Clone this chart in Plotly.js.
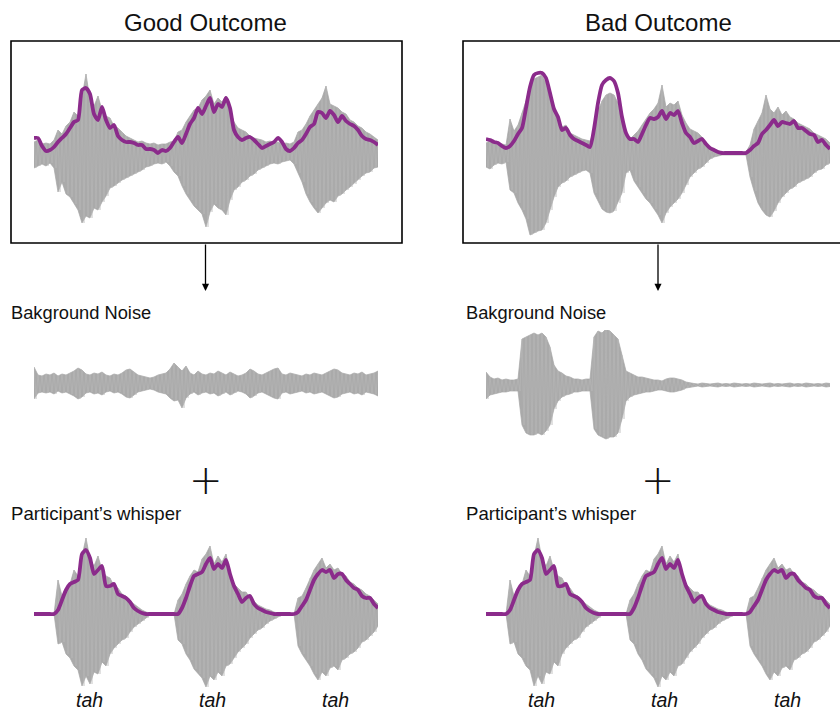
<!DOCTYPE html>
<html><head><meta charset="utf-8">
<script src="https://cdn.plot.ly/plotly-3.0.1.min.js"></script>
<style>html,body{margin:0;padding:0;background:#fff}#chart{width:840px;height:714px}</style>
</head><body><div id="chart"></div>
<script>
// ---------- DATA (amplitudes, arbitrary units) ----------
const columnTitles = ['Good Outcome', 'Bad Outcome'];
const rowLabels = ['Bakground Noise', 'Participant\u2019s whisper'];
const syllables = ['tah', 'tah', 'tah'];
const syllableTimes = [0.55, 1.785, 3.01];   // seconds
const sampleStep = 0.04;                     // seconds between samples
const sampleCount = 87;

// Good outcome: whisper + background noise (gray) and its envelope (purple)
const goodUpper = [10,12,8,9,8,12,22,18,26,30,40,36,55,78,52,46,56,42,36,34,26,24,20,16,14,12,10,11,9,8,9,7,8,8,10,11,20,22,30,36,42,44,52,56,62,48,54,50,56,42,30,24,22,20,16,14,13,12,10,11,9,10,8,9,8,10,20,22,28,36,42,48,54,66,48,46,44,40,38,32,30,26,24,20,18,15,12];
const goodLower = [16,14,12,14,11,16,40,30,42,45,52,58,71,64,66,56,58,50,44,36,34,31,28,26,24,22,20,18,15,14,12,11,12,10,14,20,24,34,42,48,54,58,62,75,60,52,56,58,63,48,38,35,30,28,24,22,18,16,14,12,11,12,10,9,8,12,21,30,42,50,56,61,56,51,48,50,44,42,38,35,32,28,24,21,20,16,15];
const goodEnvelope = [14,14,6,1,2,5,10,14,18,24,30,32,62,64,58,38,32,45,32,24,27,16,12,10,10,9,7,7,3,3,2,-1,2,1,4,10,15,9,18,28,34,44,38,46,54,40,48,45,54,44,22,15,12,14,15,12,8,4,6,8,10,14,10,3,1,4,9,12,18,25,28,40,39,34,41,37,30,36,31,28,26,22,16,13,12,10,7];

// Bad outcome: whisper + background noise (gray) and its envelope (purple)
const badUpper = [10,12,9,8,9,8,34,22,28,40,52,68,74,76,78,70,56,46,34,26,28,20,18,16,14,13,12,22,42,52,58,60,58,50,30,16,14,18,22,28,34,40,44,50,68,46,50,48,52,38,30,24,22,20,16,10,6,3,2,1,1,1,1,1,1,1,8,24,32,40,58,44,40,46,38,42,36,34,30,28,26,24,20,18,16,14,10];
const badLower = [14,16,12,10,11,9,37,40,50,57,66,82,80,78,77,70,57,44,34,30,28,24,22,20,18,17,20,40,48,56,59,60,58,50,40,20,17,28,34,40,46,50,56,62,70,60,54,50,46,40,32,24,20,16,14,10,6,4,3,2,2,2,2,2,2,2,24,38,50,57,62,64,58,50,44,40,36,34,30,28,26,24,20,17,16,12,10];
const badEnvelope = [14,13,11,10,7,5,7,12,19,25,45,66,78,80,80,75,60,44,36,23,25,18,14,12,10,8,6,24,50,68,73,75,72,60,36,20,14,14,11,19,28,35,34,36,42,34,40,38,42,30,20,16,10,12,14,9,5,3,1,0,0,0,0,0,0,0,3,7,10,19,23,28,33,27,31,30,29,32,25,25,22,19,18,11,13,8,4];

// Background noise
const noiseGoodUpper = [16,8,7,9,8,10,7,9,8,10,12,15,13,9,8,10,9,11,8,7,9,8,10,13,14,11,8,7,6,5,6,8,9,10,14,20,16,12,17,10,8,12,9,8,10,9,12,10,8,11,9,7,8,10,14,12,9,8,10,12,14,15,9,8,10,9,8,7,9,8,10,9,8,10,12,14,13,10,9,8,10,9,11,8,9,10,12];
const noiseGoodLower = [16,10,9,10,9,11,8,10,9,11,13,16,14,10,9,11,10,12,9,8,10,9,11,14,15,12,9,8,7,6,7,9,10,11,15,18,17,25,15,11,9,12,10,9,11,10,13,11,9,12,10,8,9,11,15,13,10,9,11,13,15,16,10,9,11,10,9,8,10,9,11,10,9,11,13,15,14,11,10,9,11,10,12,9,10,11,13];
const noiseBadUpper = [13,8,6,7,5,6,5,5,6,46,48,50,52,50,52,48,38,20,14,12,9,8,6,6,5,6,6,48,54,52,56,54,50,46,30,14,12,10,8,8,7,6,5,5,4,6,7,7,6,5,3,2,1.5,1,2,1.5,1,1.5,2,1,1.5,1,2,1.5,1,1.5,1,2,1.5,1,1.5,2,1,1.5,1,1.5,2,1,1.5,1,2,1.5,1,1.5,1,2,1.5];
const noiseBadLower = [14,10,9,8,7,7,6,6,6,40,48,50,50,48,50,46,40,24,16,12,10,9,7,7,6,6,6,44,50,52,54,52,52,48,34,16,12,10,9,8,7,7,6,5,5,6,7,7,6,5,3,2,1.5,1,2,1.5,1,1.5,2,1,1.5,1,2,1.5,1,1.5,1,2,1.5,1,1.5,2,1,1.5,1,1.5,2,1,1.5,1,2,1.5,1,1.5,1,2,1.5];

// Participant's whisper (same recording in both columns)
const whisperUpper = [0,0,0,0,0,0,34,18,26,30,44,38,58,76,55,48,58,44,38,36,28,26,20,18,13,10,7,4,2,1,1,1,0,0,0,0,14,20,30,38,44,42,55,60,68,50,58,52,60,40,30,26,22,22,16,13,9,7,5,4,2,1,0,0,0,0,16,18,26,36,44,50,56,46,50,44,46,40,38,32,30,26,24,20,18,14,10];
const whisperLower = [0,0,0,0,0,0,30,28,40,44,52,56,72,62,70,58,60,48,52,40,34,30,26,24,18,13,10,7,4,1,1,1,0,0,0,0,26,30,40,46,55,60,64,73,62,66,58,62,52,50,44,38,34,30,24,20,16,14,10,7,5,3,1,0,0,0,32,40,46,52,60,66,58,62,54,52,56,46,44,40,38,34,28,26,22,18,12];
const whisperEnvelope = [0,0,0,0,0,0,4,14,24,30,32,34,60,64,56,40,44,48,28,28,30,20,18,16,12,6,3,1,0,0,0,0,0,0,0,0,0,6,16,28,38,40,42,50,56,45,50,46,54,40,28,20,12,16,18,10,6,4,2,1,0,0,0,0,0,0,2,8,14,24,34,40,44,42,44,36,40,40,34,30,26,24,18,16,16,10,6];

// ---------- LAYOUT GEOMETRY (pixels of the 840x714 page) ----------
const W = 840, H = 714;
const times = Array.from({length: sampleCount}, (_, i) => +(i * sampleStep).toFixed(3));
const tMax = times[sampleCount - 1];
const GRAY = '#aaaaaa', PURPLE = '#8b2b8b';

const px = v => v / W;
const py = v => 1 - v / H;

// panels: [x0,x1] pixel, [top,bottom] pixel, baseline pixel
const panels = [
  {x: [34, 378],  y: [45, 240],  base: 152, up: goodUpper,      lo: goodLower,      env: goodEnvelope},
  {x: [486, 830], y: [45, 240],  base: 153, up: badUpper,       lo: badLower,       env: badEnvelope},
  {x: [34, 378],  y: [340, 430], base: 383, up: noiseGoodUpper, lo: noiseGoodLower, env: null},
  {x: [486, 830], y: [330, 440], base: 385, up: noiseBadUpper,  lo: noiseBadLower,  env: null},
  {x: [34, 378],  y: [530, 700], base: 614, up: whisperUpper,   lo: whisperLower,   env: whisperEnvelope},
  {x: [486, 830], y: [530, 700], base: 614, up: whisperUpper,   lo: whisperLower,   env: whisperEnvelope}
];

const traces = [];
const layout = {
  width: W, height: H,
  margin: {l: 0, r: 0, t: 0, b: 0},
  paper_bgcolor: '#fff', plot_bgcolor: 'rgba(0,0,0,0)',
  showlegend: false,
  shapes: [], annotations: []
};

panels.forEach((p, k) => {
  const n = k === 0 ? '' : String(k + 1);
  const xa = 'x' + n, ya = 'y' + n;
  layout['xaxis' + n] = {domain: [px(p.x[0]), px(p.x[1])], range: [0, tMax], visible: false, fixedrange: true, anchor: ya};
  layout['yaxis' + n] = {domain: [py(p.y[1]), py(p.y[0])], range: [-(p.y[1] - p.base), p.base - p.y[0]], visible: false, fixedrange: true, anchor: xa};

  // filled body of the waveform
  const polyX = times.concat(times.slice().reverse());
  const polyY = p.up.concat(p.lo.map(v => -v).reverse());
  traces.push({type: 'scatter', mode: 'lines', x: polyX, y: polyY, xaxis: xa, yaxis: ya,
    fill: 'toself', fillcolor: GRAY, line: {color: '#a6a6a6', width: 0.7}, hoverinfo: 'skip'});
  // oscillation texture
  const zx = [], zy = [];
  times.forEach((t, i) => { zx.push(t, t + sampleStep / 2); zy.push(p.up[i], -p.lo[i]); });
  traces.push({type: 'scatter', mode: 'lines', x: zx, y: zy, xaxis: xa, yaxis: ya,
    line: {color: '#bababa', width: 0.5}, hoverinfo: 'skip'});
  if (p.env) {
    traces.push({type: 'scatter', mode: 'lines', x: times, y: p.env, xaxis: xa, yaxis: ya,
      line: {color: PURPLE, width: 3.8, shape: 'spline', smoothing: 0.6}, hoverinfo: 'skip'});
  }
});

// boxes round the top panels
layout.shapes.push(
  {type: 'rect', xref: 'paper', yref: 'paper', x0: px(11), x1: px(402), y0: py(243), y1: py(41), line: {color: '#000', width: 1.6}},
  {type: 'rect', xref: 'paper', yref: 'paper', x0: px(463), x1: px(846), y0: py(243), y1: py(41), line: {color: '#000', width: 1.6}}
);

const textFont = {family: 'Liberation Sans, Arial, sans-serif', color: '#111'};
const colCenters = [205.5, 658];
const colLeft = [8.5, 463.5];
const axisX = ['x5', 'x6'];

colCenters.forEach((cx, c) => {
  // column title
  layout.annotations.push({xref: 'paper', yref: 'paper', x: px(cx), y: py(22), text: columnTitles[c],
    showarrow: false, xanchor: 'center', yanchor: 'middle', font: Object.assign({size: 24}, textFont)});
  // arrow down from box
  layout.annotations.push({xref: 'paper', yref: 'paper', x: px(cx), y: py(291), text: '',
    showarrow: true, ax: 0, ay: -48, arrowhead: 2, arrowsize: 1.1, arrowwidth: 1.3, arrowcolor: '#000'});
  // row labels
  layout.annotations.push({xref: 'paper', yref: 'paper', x: px(colLeft[c]), y: py(312), text: rowLabels[0],
    showarrow: false, xanchor: 'left', yanchor: 'middle', font: Object.assign({size: 18.3}, textFont)});
  layout.annotations.push({xref: 'paper', yref: 'paper', x: px(colLeft[c]), y: py(513), text: rowLabels[1],
    showarrow: false, xanchor: 'left', yanchor: 'middle', font: Object.assign({size: 18.6}, textFont)});
  // plus sign
  layout.annotations.push({xref: 'paper', yref: 'paper', x: px(cx), y: py(480), text: '+',
    showarrow: false, xanchor: 'center', yanchor: 'middle', font: {family: 'DejaVu Sans, sans-serif', size: 40, color: '#111', weight: 300}});
  // syllables
  syllables.forEach((s, j) => {
    layout.annotations.push({xref: axisX[c], yref: 'paper', x: syllableTimes[j], y: py(700), text: '<i>' + s + '</i>',
      showarrow: false, xanchor: 'center', yanchor: 'middle', font: Object.assign({size: 19.5}, textFont)});
  });
});

Plotly.newPlot('chart', traces, layout, {displayModeBar: false, staticPlot: true});
</script>
</body></html>
